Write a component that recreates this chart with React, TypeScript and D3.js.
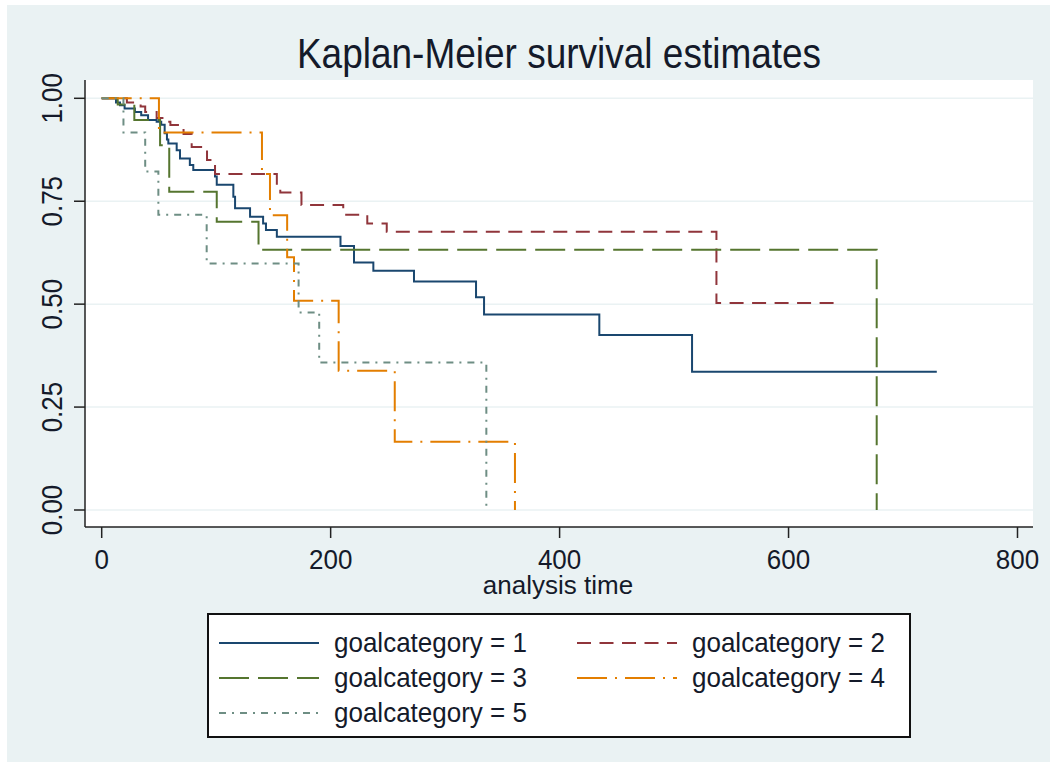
import React, { useRef, useEffect } from 'react';
import * as d3 from 'd3';

// Kaplan-Meier step values (time, survival)
const g1Time = [0, 12.5, 16, 20, 29, 34.5, 40.5, 48, 52, 55, 57, 58.2, 65.5, 68.4, 77, 80, 99, 100.5, 115, 116.5, 129.6, 141, 143.5, 153, 208.6, 220.4, 237.3, 272.8, 327, 334, 434.7, 515.7, 729.5];
const g1Surv = [1, 0.99, 0.983, 0.975, 0.967, 0.959, 0.947, 0.943, 0.936, 0.915, 0.9, 0.89, 0.874, 0.854, 0.838, 0.826, 0.81, 0.79, 0.761, 0.733, 0.712, 0.696, 0.68, 0.664, 0.641, 0.601, 0.581, 0.555, 0.517, 0.475, 0.425, 0.336, 0.336];

const g2Time = [0, 22, 34, 38, 48, 55, 60, 71.5, 78.6, 92, 99, 153, 156, 174.5, 211, 232, 249, 537, 646.5];
const g2Surv = [1, 0.99, 0.98, 0.967, 0.952, 0.943, 0.935, 0.913, 0.882, 0.85, 0.816, 0.79, 0.771, 0.741, 0.717, 0.696, 0.676, 0.503, 0.503];

const g3Time = [0, 14, 28.5, 51, 59, 100.5, 137, 677];
const g3Surv = [1, 0.985, 0.947, 0.886, 0.773, 0.7, 0.632, 0];

const g4Time = [0, 50, 140, 147, 162, 168, 207, 256, 361];
const g4Surv = [1, 0.917, 0.816, 0.716, 0.614, 0.508, 0.338, 0.166, 0];

const g5Time = [0, 19, 38, 49.5, 91.7, 172, 190, 336];
const g5Surv = [1, 0.917, 0.822, 0.717, 0.599, 0.48, 0.358, 0];

const groupLabels = ["goalcategory = 1", "goalcategory = 2", "goalcategory = 3", "goalcategory = 4", "goalcategory = 5"];
const xTicks = [0, 200, 400, 600, 800];
const yTicks = [0, 0.25, 0.5, 0.75, 1];

const colors = ["#1a476f", "#90353b", "#55752f", "#e37e00", "#6e8e84"];
const dashes = ["none", "14 8.5", "30 9", "30 8 2 8", "7 6 2 6"];

const font = "'Liberation Sans', Arial, sans-serif";
const ink = "#141a2a";

const App = () => {
    const svgRef = useRef<SVGSVGElement>(null);

    useEffect(() => {
        const svg = d3.select(svgRef.current);
        svg.selectAll("*").remove();

        const width = 1050;
        const height = 769;
        const plotLeft = 85, plotRight = 1033, plotTop = 80, plotBottom = 527;

        const x = d3.scaleLinear().domain([0, 800]).range([101.7, 1017.5]);
        const y = d3.scaleLinear().domain([0, 1]).range([510, 98.3]);

        svg.attr("width", width).attr("height", height).attr("viewBox", [0, 0, width, height]);

        // outer graph region
        svg.append("rect").attr("x", 0).attr("y", 0).attr("width", width).attr("height", height).attr("fill", "#ffffff");
        svg.append("rect").attr("x", 7).attr("y", 5).attr("width", width - 7).attr("height", 757).attr("fill", "#eaf2f3");

        // plot region
        svg.append("rect")
            .attr("x", plotLeft).attr("y", plotTop)
            .attr("width", plotRight - plotLeft).attr("height", plotBottom - plotTop)
            .attr("fill", "#ffffff");

        // gridlines
        svg.append("g").selectAll("line")
            .data(yTicks)
            .join("line")
            .attr("x1", plotLeft).attr("x2", plotRight)
            .attr("y1", d => y(d)).attr("y2", d => y(d))
            .attr("stroke", "#eaf2f3").attr("stroke-width", 1.5);

        // title (stata text renders a bit taller than Arial)
        svg.append("text")
            .attr("transform", "translate(559,68) scale(1,1.13)")
            .attr("text-anchor", "middle")
            .attr("font-family", font).attr("font-size", 37)
            .attr("fill", ink)
            .text("Kaplan-Meier survival estimates");

        // survival curves
        const series = [
            [g1Time, g1Surv], [g2Time, g2Surv], [g3Time, g3Surv], [g4Time, g4Surv], [g5Time, g5Surv]
        ];
        const line = d3.line<[number, number]>()
            .x(d => x(d[0]))
            .y(d => y(d[1]))
            .curve(d3.curveStepAfter);

        series.forEach(([t, s], i) => {
            const pts = t.map((v, j) => [v, s[j]] as [number, number]);
            svg.append("path")
                .attr("d", line(pts))
                .attr("fill", "none")
                .attr("stroke", colors[i])
                .attr("stroke-width", 2)
                .attr("stroke-dasharray", dashes[i]);
        });

        // axes
        const axisColor = "#222";
        svg.append("line")
            .attr("x1", plotLeft).attr("x2", plotLeft)
            .attr("y1", plotTop).attr("y2", plotBottom)
            .attr("stroke", axisColor).attr("stroke-width", 1.5);
        svg.append("line")
            .attr("x1", plotLeft).attr("x2", plotRight)
            .attr("y1", plotBottom).attr("y2", plotBottom)
            .attr("stroke", axisColor).attr("stroke-width", 1.5);

        svg.append("g").selectAll("line")
            .data(yTicks)
            .join("line")
            .attr("x1", 74).attr("x2", plotLeft)
            .attr("y1", d => y(d)).attr("y2", d => y(d))
            .attr("stroke", axisColor).attr("stroke-width", 1.5);

        svg.append("g").selectAll("text")
            .data(yTicks)
            .join("text")
            .attr("transform", d => `translate(62,${y(d)}) rotate(-90) scale(1,1.12)`)
            .attr("text-anchor", "middle")
            .attr("font-family", font).attr("font-size", 26)
            .attr("fill", ink)
            .text(d => d3.format(".2f")(d));

        svg.append("g").selectAll("line")
            .data(xTicks)
            .join("line")
            .attr("x1", d => x(d)).attr("x2", d => x(d))
            .attr("y1", plotBottom).attr("y2", 538)
            .attr("stroke", axisColor).attr("stroke-width", 1.5);

        svg.append("g").selectAll("text")
            .data(xTicks)
            .join("text")
            .attr("transform", d => `translate(${x(d)},569) scale(1,1.08)`)
            .attr("text-anchor", "middle")
            .attr("font-family", font).attr("font-size", 26)
            .attr("fill", ink)
            .text(d => d);

        svg.append("text")
            .attr("transform", "translate(558,594)")
            .attr("text-anchor", "middle")
            .attr("font-family", font).attr("font-size", 26)
            .attr("fill", ink)
            .text("analysis time");

        // legend
        const legend = svg.append("g");
        legend.append("rect")
            .attr("x", 208).attr("y", 614)
            .attr("width", 702).attr("height", 123)
            .attr("fill", "#ffffff")
            .attr("stroke", "#111").attr("stroke-width", 2);

        groupLabels.forEach((label, i) => {
            const col = i % 2;
            const row = Math.floor(i / 2);
            const lx = col === 0 ? 219 : 577;
            const ly = 643 + row * 35;
            legend.append("line")
                .attr("x1", lx).attr("x2", lx + 100)
                .attr("y1", ly).attr("y2", ly)
                .attr("stroke", colors[i]).attr("stroke-width", 2)
                .attr("stroke-dasharray", dashes[i]);
            legend.append("text")
                .attr("transform", `translate(${lx + 115},${ly + 9}) scale(1,1.08)`)
                .attr("font-family", font).attr("font-size", 26)
                .attr("fill", ink)
                .text(label);
        });
    }, []);

    return <svg ref={svgRef} style={{ position: 'absolute', left: 0, top: 0 }}></svg>;
};

export default App;
